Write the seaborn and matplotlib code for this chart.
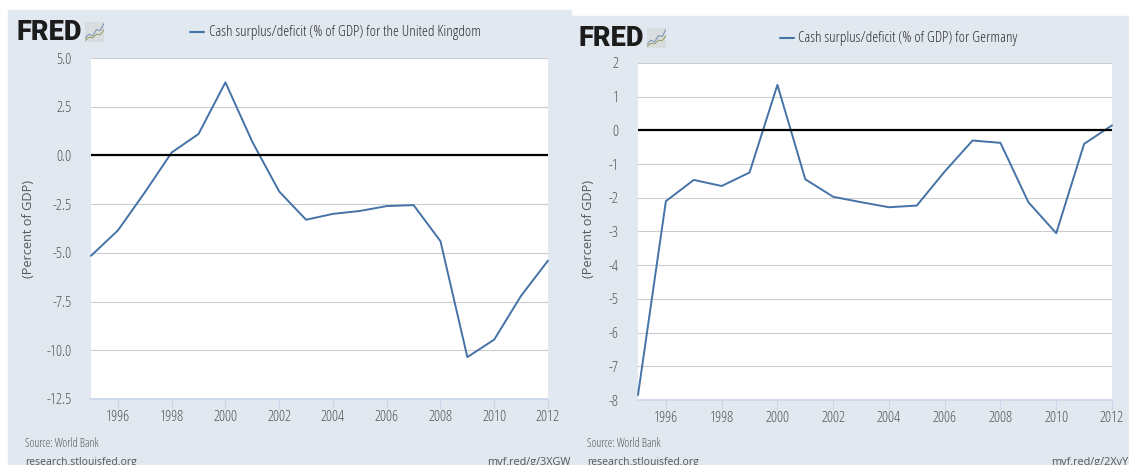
import matplotlib
matplotlib.use("Agg")
import matplotlib.pyplot as plt
from matplotlib.patches import Rectangle
import pandas as pd
import seaborn as sns

W, H = 1129, 465

years = list(range(1995, 2013))
uk_values = [-5.15, -3.85, -1.9, 0.15, 1.1, 3.75, 0.7, -1.85, -3.3, -3.0, -2.85, -2.6, -2.55, -4.4,
             -10.35, -9.45, -7.2, -5.4]
de_values = [-7.85, -2.1, -1.47, -1.65, -1.25, 1.35, -1.45, -1.97, -2.13, -2.28, -2.23, -1.22, -0.3,
             -0.37, -2.13, -3.05, -0.4, 0.15]
uk_yticks = [5.0, 2.5, 0.0, -2.5, -5.0, -7.5, -10.0, -12.5]
de_yticks = [2, 1, 0, -1, -2, -3, -4, -5, -6, -7, -8]
xticks = [1996, 1998, 2000, 2002, 2004, 2006, 2008, 2010, 2012]
uk_title = "Cash surplus/deficit (% of GDP) for the United Kingdom"
de_title = "Cash surplus/deficit (% of GDP) for Germany"

BG = "#e1e8ef"
LINE = "#4572a7"
GRID = "#c9ccd1"
TXT = "#55585c"

sns.set_theme(style="white")
plt.rcParams["font.family"] = ["Open Sans", "DejaVu Sans"]


def box(left, top, right, bottom):
    return [left / W, 1 - bottom / H, (right - left) / W, (bottom - top) / H]


def panel(fig, pos, values, yticks, ylabels, title, title_x, line_x, title_y, ylab_x, logo_x, logo_y,
          source_x, url, url_x):
    ax = fig.add_axes(pos)
    df = pd.DataFrame({"year": years, "value": values})
    sns.lineplot(data=df, x="year", y="value", ax=ax, color=LINE, linewidth=1.4, zorder=3, clip_on=False)
    ax.axhline(0, color="black", linewidth=1.6, zorder=4)
    ax.set_xlim(1995, 2012)
    ax.set_ylim(min(yticks), max(yticks))
    ax.set_yticks(yticks)
    ax.set_yticklabels(ylabels)
    ax.set_xticks(xticks)
    ax.set_xlabel("")
    ax.set_ylabel("")
    ax.set_facecolor("white")
    ax.grid(axis="y", color=GRID, linewidth=0.8)
    ax.set_axisbelow(True)
    ax.tick_params(axis="y", length=0, labelsize=11, labelcolor=TXT, pad=14)
    ax.tick_params(axis="x", length=7, width=0.8, color="#ccd6eb", bottom=True, labelsize=11,
                   labelcolor=TXT, pad=1)
    for lab in ax.get_xticklabels() + ax.get_yticklabels():
        lab.set_stretch("condensed")
    for s in ax.spines.values():
        s.set_visible(False)
    ax.spines["bottom"].set_visible(True)
    ax.spines["bottom"].set_color("#ccd6eb")

    fig.text(ylab_x / W, 1 - 229 / H, "(Percent of GDP)", rotation=90, ha="center", va="center",
             fontsize=9.2, color=TXT)
    fig.text(title_x / W, 1 - title_y / H, title, ha="left", va="center", fontsize=10.9, color="#333333",
             stretch="condensed", fontweight="medium")
    fig.add_artist(plt.Line2D([line_x / W, (line_x + 14) / W], [1 - title_y / H] * 2, color=LINE, linewidth=1.5))

    fig.text(logo_x / W, 1 - logo_y / H, "FRED", ha="left", va="center", fontsize=19.5, fontweight="black",
             color="#1c1c1c", family=["Roboto", "DejaVu Sans"])
    icon = fig.add_axes(box(logo_x + 69, logo_y - 10, logo_x + 88, logo_y + 10))
    sns.lineplot(x=[0, 1, 2, 3, 4, 5], y=[1, 2, 1.6, 3.2, 3, 4.8], ax=icon, color="#7f97b8", linewidth=0.8)
    sns.lineplot(x=[0, 1, 2, 3, 4, 5], y=[0.4, 1.2, 1.1, 2, 1.9, 3.2], ax=icon, color="#9aa36c", linewidth=0.8)
    icon.set_xlim(0, 5)
    icon.set_ylim(0, 5.2)
    icon.axis("off")
    icon.add_patch(Rectangle((0, 0), 5, 5.2, color="#d9dde0", zorder=0))

    fig.text(source_x / W, 1 - 443 / H, "Source: World Bank", ha="left", va="center", fontsize=8.4,
             color=TXT, stretch="condensed")
    fig.text(source_x / W, 1 - 462 / H, "research.stlouisfed.org", ha="left", va="center", fontsize=7.5,
             color=TXT)
    fig.text(url_x / W, 1 - 462 / H, url, ha="left", va="center", fontsize=7.8, color=TXT)
    return ax


fig = plt.figure(figsize=(W / 100, H / 100), dpi=100, facecolor="white")
fig.add_artist(Rectangle((8 / W, 0), 563 / W, 1 - 10 / H, transform=fig.transFigure, color=BG, zorder=-5))
fig.add_artist(Rectangle((570 / W, 0), 559 / W, 1 - 16 / H, transform=fig.transFigure, color=BG, zorder=-5))

panel(fig, box(91, 58, 548, 399), uk_values, uk_yticks, [f"{v:.1f}" for v in uk_yticks], uk_title,
      209, 190, 32, 29, 16, 32, 25, "myf.red/g/3XGW", 487)
panel(fig, box(638, 63, 1112, 400), de_values, de_yticks, [str(v) for v in de_yticks], de_title,
      798, 780, 38, 589, 578, 38, 587, "myf.red/g/2XyY", 1051)

fig.savefig("out.png", dpi=100)
